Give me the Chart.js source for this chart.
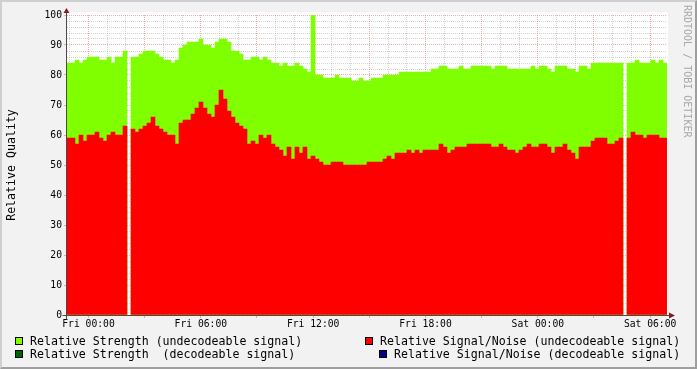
<!DOCTYPE html>
<html>
<head>
<meta charset="utf-8">
<script src="https://cdn.jsdelivr.net/npm/chart.js@4.4.1/dist/chart.umd.min.js"></script>
<style>
    html, body { margin: 0; padding: 0; }
    body { width: 697px; height: 369px; background: #f2f2f2; position: relative; overflow: hidden; }
    #frame { position: absolute; left: 0; top: 0; width: 697px; height: 369px; box-sizing: border-box;
             border: 2px solid; border-color: #cfcfcf #9e9e9e #9e9e9e #cfcfcf; }
    #grafico { position: absolute; left: 0; top: 0; }
    .leg { position: absolute; font: 11.6px 'DejaVu Sans Mono', monospace; white-space: pre; color: #000; line-height: 14px; }
    .leg i { position: absolute; left: 0; top: 3px; width: 6px; height: 6px; border: 1px solid #000; }
    .leg span { position: absolute; left: 15px; top: 0; }
</style>
</head>
<body>
<div id="frame"></div>
<canvas id="grafico" width="697" height="369"></canvas>
<div id="leyenda"></div>
<script>
// muestras: primera muestra en minutos respecto a Fri 00:00, paso de muestreo en minutos
const primeraMuestra = -62.5;
const pasoMin = 12.82;

const horasEtiqueta = [0, 6, 12, 18, 24, 30];
const textosEtiqueta = ['Fri 00:00', 'Fri 06:00', 'Fri 12:00', 'Fri 18:00', 'Sat 00:00', 'Sat 06:00'];

const series = [
    'Relative Strength (undecodeable signal)',
    'Relative Signal/Noise (undecodeable signal)',
    'Relative Strength  (decodeable signal)',
    'Relative Signal/Noise (decodeable signal)'
];

const fuerzaNoDecod = [
    84, 84, 85, 84, 85, 86, 86, 86, 85, 85, 86, 84, 86, 86, 88,
    null,
    86, 86, 87, 88, 88, 88, 87, 86, 85, 85, 84, 85,
    89, 90, 91, 91, 91, 92, 90, 90, 89, 91, 92, 92, 91, 88, 88, 87, 85,
    85, 86, 86, 85, 86, 85, 84, 84, 83, 84, 83, 83, 84, 83, 82, 81,
    100,
    80, 80, 79, 79, 79, 80, 79, 79, 79, 78, 78,
    79, 78, 78, 79, 79, 79, 80, 80, 80, 80, 81, 81, 81, 81, 81, 81, 81, 81, 82, 82,
    83, 83, 82, 82, 82, 83, 82, 82, 83, 83, 83, 83, 83, 82, 83, 83, 83,
    82, 82, 82, 82, 82, 82, 83, 82, 83, 83, 82, 81, 83, 83, 83, 82, 82, 81, 83, 83, 82,
    84, 84, 84, 84, 84, 84, 84, 84,
    null,
    84, 84, 85, 84, 84, 84, 85, 84, 85, 84
];

const ruidoNoDecod = [
    59, 59, 57, 60, 58, 60, 60, 61, 59, 58, 60, 61, 60, 60, 63,
    null,
    62, 61, 62, 63, 64, 66, 63, 62, 61, 60, 60, 57,
    64, 65, 65, 67, 69, 71, 69, 67, 66, 70, 75, 72, 68, 66, 64, 63, 62,
    57, 58, 57, 60, 59, 60, 57, 56, 55, 53, 56, 52, 56, 54, 56, 52,
    53,
    52, 51, 50, 50, 51, 51, 51, 50, 50, 50, 50,
    50, 50, 51, 51, 51, 51, 52, 53, 52, 54, 54, 54, 55, 54, 55, 54, 55, 55, 55, 55,
    57, 56, 54, 55, 56, 56, 56, 57, 57, 57, 57, 57, 57, 56, 56, 57, 56,
    55, 55, 54, 55, 56, 57, 56, 56, 57, 57, 56, 54, 56, 56, 57, 55, 54, 52, 56, 56, 56,
    58, 59, 59, 59, 57, 57, 58, 59,
    null,
    59, 61, 60, 60, 59, 60, 60, 60, 59, 59
];

// las series "decodeable" no tienen datos en el periodo
const fuerzaDecod = [];
const ruidoDecod = [];

const horas = fuerzaNoDecod.map((v, i) => (primeraMuestra + i * pasoMin) / 60);
const xMin = (primeraMuestra - pasoMin / 2) / 60;
const xMax = (primeraMuestra + (fuerzaNoDecod.length - 0.5) * pasoMin) / 60;

function puntos(valores) {
    return valores.map((v, i) => ({ x: horas[i], y: v }));
}

const fuente = { family: "'DejaVu Sans Mono', monospace", size: 9.7 };
const gridMenor = 'rgba(143, 143, 143, 0.4)';
const gridMayor = 'rgba(222, 79, 79, 0.45)';

const decoracion = {
    id: 'decoracion',
    beforeDraw(chart) {
        const { ctx, chartArea: a } = chart;
        ctx.save();
        ctx.fillStyle = '#ffffff';
        ctx.fillRect(a.left, a.top - 3, a.right - a.left + 1, a.bottom - a.top + 3);
        ctx.restore();
    },
    afterDraw(chart) {
        const { ctx, chartArea: a } = chart;
        const x0 = Math.round(a.left) - 0.5;
        const y0 = Math.round(a.bottom) + 0.5;
        ctx.save();
        ctx.strokeStyle = '#4a4a4a';
        ctx.lineWidth = 1;
        ctx.beginPath();
        ctx.moveTo(x0, y0 + 4);
        ctx.lineTo(x0, a.top - 2);
        ctx.moveTo(x0 - 4, y0);
        ctx.lineTo(a.right + 2, y0);
        ctx.stroke();
        // flechas
        ctx.fillStyle = '#801f1f';
        ctx.beginPath();
        ctx.moveTo(x0, a.top - 7);
        ctx.lineTo(x0 - 3, a.top - 2);
        ctx.lineTo(x0 + 3, a.top - 2);
        ctx.closePath();
        ctx.fill();
        ctx.beginPath();
        ctx.moveTo(a.right + 8, y0);
        ctx.lineTo(a.right + 2, y0 - 3);
        ctx.lineTo(a.right + 2, y0 + 3);
        ctx.closePath();
        ctx.fill();
        // marca de agua
        ctx.translate(687, 5);
        ctx.rotate(Math.PI / 2);
        ctx.fillStyle = '#a8a8a8';
        ctx.font = "10px 'DejaVu Sans Mono', monospace";
        ctx.textBaseline = 'middle';
        ctx.fillText('RRDTOOL / TOBI OETIKER', 0, 0);
        ctx.restore();
    }
};

const ctx = document.getElementById('grafico').getContext('2d');
const grafico = new Chart(ctx, {
    type: 'bar',
    data: {
        datasets: [{
            label: series[0],
            data: puntos(fuerzaNoDecod),
            backgroundColor: '#7fff00',
            order: 2
        }, {
            label: series[1],
            data: puntos(ruidoNoDecod),
            backgroundColor: '#ff0000',
            order: 1
        }, {
            label: series[2],
            data: fuerzaDecod,
            backgroundColor: '#006400',
            order: 3
        }, {
            label: series[3],
            data: ruidoDecod,
            backgroundColor: '#000088',
            order: 4
        }]
    },
    options: {
        responsive: false,
        animation: false,
        devicePixelRatio: 1,
        categoryPercentage: 1,
        barPercentage: 1,
        layout: { padding: { left: 0, top: 15, right: 30, bottom: 34 } },
        plugins: {
            legend: { display: false },
            tooltip: { enabled: false }
        },
        scales: {
            x: {
                type: 'linear',
                min: xMin,
                max: xMax,
                offset: false,
                stacked: true,
                z: 1,
                afterBuildTicks: function(s) {
                    s.ticks = [];
                    for (let h = Math.ceil(xMin); h <= xMax; h++) s.ticks.push({ value: h });
                },
                afterFit: function(s) { s.height = 20; },
                ticks: {
                    autoSkip: false,
                    maxRotation: 0,
                    minRotation: 0,
                    padding: 1,
                    color: '#000',
                    font: fuente,
                    callback: function(v) {
                        const k = horasEtiqueta.indexOf(v);
                        return k >= 0 ? textosEtiqueta[k] : '';
                    }
                },
                grid: {
                    offset: false,
                    color: c => (c.tick && c.tick.value % 3 === 0) ? gridMayor : gridMenor,
                    tickLength: 3,
                    tickColor: c => (c.tick && c.tick.value % 3 === 0) ? gridMayor : 'rgba(0,0,0,0)'
                },
                border: { display: false, dash: [1, 1] }
            },
            y: {
                min: 0,
                max: 100,
                stacked: false,
                z: 1,
                afterBuildTicks: function(s) {
                    s.ticks = [];
                    for (let v = 0; v <= 100; v += 2) s.ticks.push({ value: v });
                },
                afterFit: function(s) { s.width = 67; },
                ticks: {
                    autoSkip: false,
                    padding: 2,
                    color: '#000',
                    font: fuente,
                    callback: v => v % 10 === 0 ? v : ''
                },
                grid: {
                    color: c => (c.tick && c.tick.value % 10 === 0) ? gridMayor : gridMenor,
                    tickLength: 3,
                    tickColor: c => (c.tick && c.tick.value % 10 === 0) ? gridMayor : 'rgba(0,0,0,0)'
                },
                border: { display: false, dash: [1, 1] },
                title: {
                    display: true,
                    text: 'Relative Quality',
                    color: '#000',
                    font: { family: "'DejaVu Sans Mono', monospace", size: 11.6 },
                    padding: { top: 5, bottom: 0 }
                }
            }
        }
    },
    plugins: [decoracion]
});

// leyenda en dos columnas, como la de rrdtool
const posLeyenda = [[15, 334], [365, 334], [15, 347], [379, 347]];
const cont = document.getElementById('leyenda');
grafico.data.datasets.forEach(function(ds, i) {
    const d = document.createElement('div');
    d.className = 'leg';
    d.style.left = posLeyenda[i][0] + 'px';
    d.style.top = posLeyenda[i][1] + 'px';
    const caja = document.createElement('i');
    caja.style.background = ds.backgroundColor;
    const txt = document.createElement('span');
    txt.textContent = ds.label;
    d.appendChild(caja);
    d.appendChild(txt);
    cont.appendChild(d);
});
</script>
</body>
</html>
